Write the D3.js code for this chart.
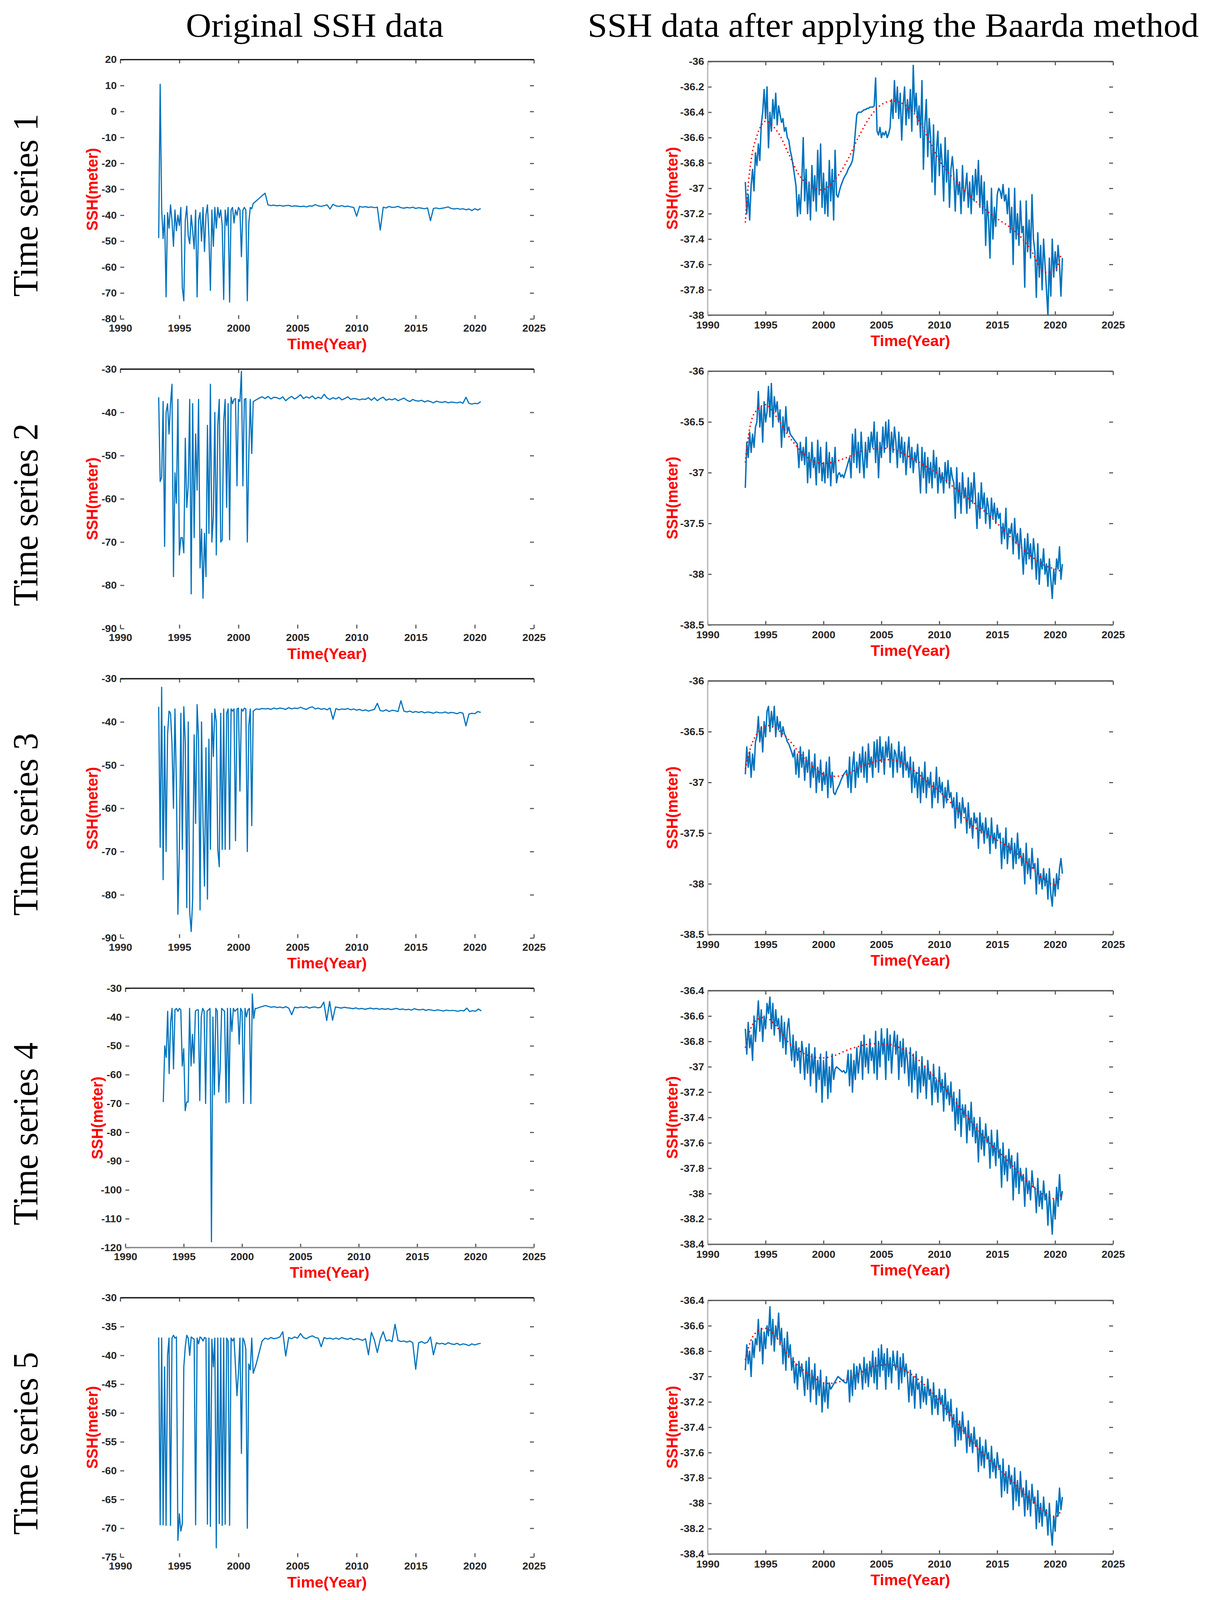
<!DOCTYPE html>
<html>
<head>
<meta charset="utf-8">
<script src="https://cdn.jsdelivr.net/npm/d3@7"></script>
<style>
html, body { margin: 0; padding: 0; background: #fff; overflow: hidden; }
#fig svg { display: block; }
</style>
</head>
<body>
<div id="fig"></div>
<script>
var W = 3111, H = 4214

var colTitles = ['Original SSH data', 'SSH data after applying the Baarda method']
var rowNames = ['Time series 1', 'Time series 2', 'Time series 3', 'Time series 4', 'Time series 5']
var xTicks = [1990, 1995, 2000, 2005, 2010, 2015, 2020, 2025]

var leftTicks1 = [-80, -70, -60, -50, -40, -30, -20, -10, 0, 10, 20]
var leftTicks2 = [-90, -80, -70, -60, -50, -40, -30]
var leftTicks3 = [-90, -80, -70, -60, -50, -40, -30]
var leftTicks4 = [-120, -110, -100, -90, -80, -70, -60, -50, -40, -30]
var leftTicks5 = [-75, -70, -65, -60, -55, -50, -45, -40, -35, -30]
var rightTicks1 = [-38, -37.8, -37.6, -37.4, -37.2, -37, -36.8, -36.6, -36.4, -36.2, -36]
var rightTicks2 = [-38.5, -38, -37.5, -37, -36.5, -36]
var rightTicks3 = [-38.5, -38, -37.5, -37, -36.5, -36]
var rightTicks4 = [-38.4, -38.2, -38, -37.8, -37.6, -37.4, -37.2, -37, -36.8, -36.6, -36.4]
var rightTicks5 = [-38.4, -38.2, -38, -37.8, -37.6, -37.4, -37.2, -37, -36.8, -36.6, -36.4]

// original series: dense part (from 1993.25, every 0.125 yr) and later part (from 2001.25, every 0.25 yr)
var earlyStart = 1993.25, earlyStep = 0.125
var lateStart = 2001.25, lateStep = 0.25
// filtered series: from 1993.25, every 0.125 yr
var cleanStart = 1993.25, cleanStep = 0.125

var ssh1Early = [
  -48.8, 10.5, -37.5, -49, -40, -71.5, -39, -45,
  -36, -42, -52, -38, -46, -40, -44, -37,
  -68, -73, -42, -36.5, -48, -51, -40, -46,
  -53, -38, -71.5, -42, -39, -50, -37, -54,
  -40, -36, -48, -69, -38, -52, -37, -45,
  -37, -41, -38, -44, -72.5, -38, -44, -37,
  -73.5, -38, -37, -43, -38, -40, -37, -38,
  -56, -38, -37, -38, -73, -43, -37, -37.5]
var ssh1Late = [
  -35.5, -34.5, -33.5, -32.5,
  -31.5, -36.0, -36.3, -36.1,
  -36.4, -36.2, -36.5, -36.3,
  -36.2, -36.6, -36.4, -36.5,
  -36.7, -36.5, -36.8, -36.4,
  -36.5, -35.9, -36.4, -36.6,
  -36.3, -36.0, -37.6, -35.8,
  -36.4, -36.6, -36.3, -36.7,
  -36.5, -36.8, -37.0, -40.4,
  -36.6, -36.9, -36.7, -37.0,
  -36.8, -37.1, -36.9, -45.7,
  -36.9, -37.2, -36.6, -37.0,
  -36.9, -36.6, -37.1, -37.3,
  -37.0, -37.2, -36.9, -37.4,
  -37.1, -37.3, -37.5, -37.2,
  -42.1, -37.4, -37.2, -37.5,
  -37.3, -37.1, -36.8, -37.4,
  -37.6, -37.4, -37.7, -37.5,
  -37.9, -37.6, -38.2, -37.5,
  -38.0, -37.4]

var ssh2Early = [
  -36.5, -56, -55, -37.5, -71, -40, -38, -45,
  -38, -33.5, -78, -54, -61, -37, -73, -69,
  -69, -72.5, -46, -62, -57, -37, -82, -38,
  -69, -45, -58, -37, -76, -67, -83, -68,
  -78, -43, -68, -33.5, -70, -64, -40, -73,
  -43, -37, -70, -69.5, -42, -37, -62, -38,
  -69.5, -36.5, -38, -37, -36.8, -57, -37, -37.5,
  -30.5, -57, -37, -36.8, -70, -50, -37, -49.5]
var ssh2Late = [
  -37.5, -37.1, -36.7, -36.4,
  -36.8, -36.3, -36.9, -36.5,
  -36.6, -36.9, -36.4, -37.3,
  -36.7, -36.3, -36.9, -36.5,
  -35.9, -36.8, -36.4, -36.7,
  -36.2, -36.9, -36.5, -36.8,
  -35.8, -36.7, -37.0, -36.6,
  -36.9, -36.5, -37.1, -36.8,
  -36.4, -37.0, -36.8, -36.9,
  -37.1, -36.9, -37.0, -36.6,
  -37.2, -36.6, -37.3, -36.8,
  -36.5, -37.2, -36.9, -37.1,
  -36.8, -37.3, -37.0, -36.7,
  -37.2, -37.5, -37.0, -37.3,
  -37.4, -37.2, -37.6, -37.3,
  -37.5, -37.8, -37.4, -37.6,
  -37.7, -37.5, -37.8, -37.6,
  -37.7, -37.8, -37.6, -37.9,
  -36.5, -37.9, -38.1, -37.9,
  -38.0, -37.5]

var ssh3Early = [
  -36.5, -69, -32, -76.5, -41, -70, -43, -37.5,
  -38, -45, -60, -37, -55, -84.5, -70, -38,
  -69.5, -36.5, -45, -83, -40, -84, -88.5, -81,
  -43, -63.5, -36, -44, -83.5, -40, -63, -78,
  -46, -81, -44, -69.5, -38, -48, -37, -40,
  -69.5, -73.5, -38, -69.5, -37, -69.5, -38, -37,
  -69.5, -37, -37.5, -37, -67.5, -37, -36.8, -56,
  -37, -37.5, -36.8, -37, -70, -41, -37, -64]
var ssh3Late = [
  -37.5, -37.0, -37.1, -36.9,
  -37.0, -36.9, -37.1, -36.8,
  -37.0, -36.8, -36.9, -37.1,
  -36.7, -37.0, -36.8, -36.9,
  -36.6, -36.9, -37.1, -36.7,
  -36.5, -37.0, -36.8, -37.1,
  -36.9, -37.2, -36.8, -39.4,
  -36.9, -37.2, -37.0, -37.1,
  -36.9, -37.2, -37.0, -37.3,
  -37.1, -37.4, -37.2, -37.5,
  -37.3, -37.1, -35.7, -37.4,
  -37.5, -37.2, -37.6, -37.3,
  -37.4, -37.6, -35.1, -37.5,
  -37.7, -37.5, -37.8, -37.6,
  -37.8, -37.6, -37.9, -37.7,
  -37.8, -38.0, -37.7, -37.9,
  -37.9, -37.7, -38.0, -37.8,
  -37.9, -38.1, -37.8, -38.0,
  -40.9, -38.2, -38.0, -38.1,
  -37.6, -37.8]

var ssh4Early = [
  -69.5, -50, -54, -38, -59.6, -42, -37, -58,
  -37.5, -37, -38, -37, -37.5, -57, -51, -72.5,
  -69.5, -69.5, -37, -57, -46, -56, -38, -37.5,
  -37.5, -69, -40, -37, -38, -70, -38, -37.5,
  -37, -118, -40, -67, -37, -38, -66, -57.7,
  -37, -37.5, -38, -69.8, -37, -69.5, -37, -45,
  -37, -38, -37.5, -37, -49.4, -37, -38, -70,
  -37, -40, -37.5, -37, -70, -32, -40.5, -37]
var ssh4Late = [
  -37.0, -36.6, -36.3, -36.0,
  -36.3, -36.6, -36.4, -36.7,
  -36.5, -36.8, -36.4, -36.9,
  -39.2, -36.6, -36.8, -36.5,
  -36.7, -36.4, -36.9, -36.6,
  -36.5, -36.8, -36.6, -34.8,
  -41.2, -34.6, -41.1, -36.5,
  -36.7, -36.9, -36.6, -36.8,
  -36.9, -37.1, -36.8, -37.2,
  -37.0, -37.3, -37.1, -36.9,
  -37.2, -37.0, -37.3, -37.1,
  -37.3, -37.1, -37.4, -37.2,
  -37.0, -37.4, -37.2, -37.5,
  -37.3, -37.6, -37.1, -37.4,
  -37.5, -37.3, -37.7, -37.4,
  -37.6, -37.8, -37.5, -37.7,
  -37.9, -37.6, -37.8, -37.7,
  -37.8, -38.0, -37.7, -37.9,
  -36.9, -38.1, -37.8, -38.0,
  -37.2, -37.9]

var ssh5Early = [
  -36.9, -69.4, -37, -69.4, -42, -69.5, -40, -37,
  -69.5, -37, -36.5, -37, -36.8, -72.1, -67.5, -70.5,
  -69.2, -42, -38.5, -36.5, -37, -40, -36.8, -37,
  -37.2, -69.4, -37, -38, -36.8, -37, -37.5, -36.9,
  -37, -69.3, -37, -69.7, -37.2, -42, -37, -73.4,
  -37, -69.2, -37, -69.5, -37, -69.3, -37, -37.5,
  -69.5, -37, -37.5, -37, -42, -47, -43, -37,
  -57, -37, -37.5, -39, -70, -41.5, -42.5, -37]
var ssh5Late = [
  -43.1, -41.5, -39.5, -37.5,
  -37.0, -37.2, -36.9, -37.1,
  -37.0, -36.8, -35.9, -40.1,
  -36.9, -37.1, -36.8, -37.0,
  -36.2, -36.9, -37.1, -36.8,
  -36.6, -36.9, -37.0, -38.5,
  -36.9, -37.1, -37.0, -37.2,
  -37.0, -37.2, -36.9, -37.1,
  -37.2, -37.0, -37.3, -37.1,
  -37.2, -37.4, -37.1, -39.9,
  -36.0, -37.3, -39.5, -37.2,
  -35.9, -37.5, -37.3, -37.6,
  -34.6, -37.4, -37.6, -37.5,
  -37.7, -37.5, -37.8, -42.4,
  -37.8, -37.6, -37.9, -37.7,
  -36.8, -39.9, -37.8, -38.0,
  -37.9, -38.1, -37.8, -38.0,
  -38.1, -37.9, -38.2, -38.0,
  -38.1, -38.3, -38.0, -38.2,
  -38.0, -37.9]

var clean1 = [
  -36.95, -37.2, -37.05, -37.25, -36.98, -36.85, -37.02, -36.72,
  -36.82, -36.65, -36.78, -36.5, -36.4, -36.22, -36.45, -36.2,
  -36.68, -36.4, -36.55, -36.3, -36.45, -36.25, -36.5, -36.35,
  -36.42, -36.48, -36.45, -36.55, -36.52, -36.6, -36.62, -36.7,
  -36.75, -36.82, -36.9, -36.98, -37.22, -37.05, -37.2, -36.95,
  -36.6, -37.1, -36.85, -37.2, -36.95, -37.25, -36.82, -37.1,
  -36.9, -37.18, -36.7, -37.05, -36.65, -37.15, -36.88, -37.2,
  -36.95, -37.22, -36.78, -37.1, -36.85, -37.25, -36.7, -37.05,
  -37.07, -37.02, -36.98, -36.95, -36.92, -36.9, -36.88, -36.85,
  -36.83, -36.81, -36.78, -36.7, -36.55, -36.42, -36.4, -36.4,
  -36.4, -36.39, -36.38, -36.38, -36.37, -36.37, -36.36, -36.36,
  -36.36, -36.35, -36.13, -36.55, -36.58, -36.52, -36.6, -36.56,
  -36.58, -36.55, -36.6, -36.57, -36.52, -36.3, -36.45, -36.15,
  -36.4, -36.2, -36.45, -36.25, -36.62, -36.35, -36.2, -36.5,
  -36.3, -36.45, -36.22, -36.55, -36.03, -36.4, -36.25, -36.5,
  -36.35, -36.6, -36.15, -36.85, -36.5, -36.3, -36.75, -36.45,
  -36.6, -36.95, -36.5, -37.05, -36.7, -36.55, -36.9, -36.65,
  -36.8, -37.1, -36.6, -36.95, -36.7, -37.15, -36.85, -36.75,
  -36.9, -37.18, -36.85, -37.05, -36.95, -37.2, -36.82, -37.1,
  -37.0, -36.88, -37.15, -36.95, -37.2, -36.9, -37.1, -36.85,
  -37.05, -36.78, -37.15, -36.9, -37.2, -36.95, -37.45, -37.1,
  -37.25, -37.55, -37.0, -37.4, -37.15, -37.3, -37.05, -37.0,
  -37.02, -37.08, -36.97, -37.1, -37.05, -37.2, -37.0, -37.35,
  -37.15, -37.6, -37.0, -37.4, -37.2, -37.45, -37.1, -37.35,
  -37.3, -37.78, -37.1, -37.5, -37.25, -37.55, -37.05, -37.4,
  -37.5, -37.86, -37.35, -37.7, -37.45, -37.8, -37.4, -37.6,
  -37.8, -38.0, -37.55, -37.85, -37.4, -37.7, -37.5, -37.65,
  -37.45, -37.6, -37.85, -37.55]

var clean2 = [
  -37.15, -36.7, -36.85, -36.6, -36.8, -36.62, -36.75, -36.55,
  -36.5, -36.2, -36.55, -36.35, -36.7, -36.3, -36.5, -36.4,
  -36.15, -36.45, -36.12, -36.55, -36.25, -36.4, -36.3, -36.5,
  -36.38, -36.75, -36.45, -36.65, -36.35, -36.6, -36.55, -36.62,
  -36.64, -36.66, -36.68, -36.7, -36.72, -36.95, -36.7, -36.88,
  -36.75, -36.92, -36.65, -37.1, -36.8, -37.05, -36.7, -36.95,
  -36.85, -37.12, -36.68, -37.0, -36.75, -37.08, -36.9, -37.1,
  -36.7, -37.05, -36.8, -37.13, -36.85, -37.0, -36.75, -37.1,
  -37.02, -37.0, -37.04, -37.02, -37.05, -37.0, -36.95, -36.9,
  -36.85, -37.05, -36.62, -36.9, -36.57, -36.95, -36.7, -37.0,
  -36.6, -36.85, -37.05, -36.7, -36.95, -36.65, -36.8, -36.6,
  -36.75, -36.5, -36.9, -36.6, -37.05, -36.7, -36.85, -36.55,
  -36.8, -36.5, -36.75, -36.48, -36.9, -36.6, -36.8, -36.55,
  -36.7, -36.95, -36.6, -36.85, -36.65, -36.9, -36.7, -37.02,
  -36.8, -36.65, -36.95, -36.75, -37.0, -36.8, -36.9, -36.72,
  -36.95, -37.2, -36.75, -37.05, -36.8, -37.2, -36.85, -37.1,
  -36.9, -37.15, -36.78, -37.05, -36.85, -37.2, -36.95, -37.1,
  -37.0, -37.2, -36.9, -37.1, -36.88, -37.15, -36.95, -37.05,
  -37.1, -37.45, -36.95, -37.3, -37.1, -37.4, -37.0, -37.25,
  -37.15, -37.4, -37.05, -37.35, -37.1, -37.3, -37.0, -37.25,
  -37.55, -37.2, -37.45, -37.1, -37.35, -37.2, -37.5, -37.25,
  -37.35, -37.55, -37.25, -37.45, -37.3, -37.5, -37.35, -37.45,
  -37.4, -37.7, -37.5, -37.65, -37.35, -37.75, -37.55, -37.6,
  -37.5, -37.8, -37.45, -37.7, -37.6, -37.85, -37.55, -37.75,
  -38.0, -37.65, -37.9, -37.6, -37.85, -37.7, -37.95, -37.65,
  -37.8, -38.05, -37.7, -38.1, -37.85, -37.95, -37.75, -38.0,
  -37.9, -38.12, -37.85, -38.05, -38.24, -37.95, -38.1, -37.85,
  -37.95, -37.73, -38.05, -37.9]

var clean3 = [
  -36.92, -36.65, -36.85, -36.7, -36.95, -36.72, -36.88, -36.6,
  -36.55, -36.35, -36.6, -36.45, -36.7, -36.4, -36.55, -36.3,
  -36.25, -36.5, -36.3, -36.45, -36.25, -36.55, -36.35, -36.48,
  -36.4, -36.55, -36.45, -36.52, -36.55, -36.6, -36.62, -36.66,
  -36.7, -36.75, -36.68, -36.92, -36.72, -36.95, -36.65, -36.85,
  -36.7, -36.98, -36.75, -36.9, -36.68, -37.05, -36.8, -36.95,
  -36.72, -37.1, -36.85, -37.0, -36.78, -37.08, -36.9, -37.02,
  -36.8, -37.15, -36.75, -37.05, -36.9, -37.1, -37.12, -37.08,
  -37.05, -37.02, -36.98, -36.95, -36.92, -36.9, -36.88, -37.05,
  -36.75, -37.1, -36.85, -36.7, -37.05, -36.8, -36.95, -36.72,
  -36.9, -36.65, -36.95, -36.7, -37.0, -36.62, -36.85, -36.75,
  -36.95, -36.6, -36.85, -36.58, -36.9, -36.55, -36.8, -36.65,
  -36.92, -36.6, -36.75, -36.55, -36.85, -36.62, -36.95, -36.68,
  -36.72, -36.9, -36.6, -36.85, -36.7, -36.95, -36.65, -36.88,
  -36.8, -36.95, -36.75, -37.1, -36.8, -37.05, -36.9, -37.15,
  -36.85, -37.2, -36.9, -37.1, -36.8, -37.15, -36.95, -37.05,
  -36.9, -37.25, -37.0, -37.15, -36.85, -37.2, -36.95, -37.1,
  -37.0, -37.25, -37.05, -37.2, -36.98, -37.15, -37.1, -37.25,
  -37.15, -37.45, -37.1, -37.35, -37.2, -37.4, -37.15, -37.3,
  -37.25, -37.5, -37.2, -37.45, -37.35, -37.55, -37.3, -37.4,
  -37.35, -37.65, -37.3, -37.5, -37.4, -37.6, -37.35, -37.55,
  -37.45, -37.7, -37.35, -37.6, -37.5, -37.65, -37.42, -37.55,
  -37.5, -37.85, -37.55, -37.75, -37.45, -37.8, -37.6, -37.7,
  -37.55, -37.85, -37.6, -37.8, -37.5, -37.75, -37.65, -37.82,
  -37.7, -38.0, -37.6, -37.9, -37.75, -37.95, -37.65, -37.85,
  -37.8, -38.1, -37.75, -38.0, -37.9, -38.05, -37.85, -38.02,
  -37.9, -38.15, -37.85, -38.1, -38.22, -37.95, -38.12, -37.9,
  -38.05, -37.85, -37.75, -37.9]

var clean4 = [
  -36.7, -36.9, -36.65, -36.85, -36.75, -36.95, -36.6, -36.8,
  -36.65, -36.48, -36.72, -36.55, -36.8, -36.6, -36.7, -36.5,
  -36.58, -36.45, -36.7, -36.5, -36.75, -36.55, -36.68, -36.62,
  -36.8, -36.6, -36.85, -36.65, -36.9, -36.7, -36.62, -36.8,
  -36.95, -36.75, -37.0, -36.8, -36.95, -36.85, -37.05, -36.8,
  -36.9, -37.1, -36.85, -37.05, -36.82, -37.15, -36.9, -37.05,
  -36.85, -37.2, -36.95, -37.1, -36.9, -37.28, -36.95, -37.15,
  -36.88, -37.25, -37.0, -37.2, -36.9, -37.1, -37.02, -37.0,
  -37.01, -37.02, -37.03, -37.04, -37.03, -37.05, -37.04, -36.9,
  -37.15, -36.9, -37.2, -36.95, -37.1, -36.85, -37.05, -36.92,
  -36.8, -37.1, -36.75, -37.0, -36.85, -37.05, -36.78, -36.95,
  -36.85, -37.05, -36.72, -37.1, -36.8, -37.0, -36.7, -36.9,
  -36.78, -37.1, -36.7, -36.95, -36.75, -37.05, -36.85, -36.72,
  -36.9, -36.75, -37.1, -36.8, -37.0, -36.78, -37.05, -36.85,
  -36.95, -37.15, -36.85, -37.2, -36.9, -37.1, -36.88, -37.25,
  -37.0, -37.2, -36.92, -37.15, -37.0, -37.25, -36.95, -37.1,
  -37.05, -37.3, -36.98, -37.2, -37.1, -37.28, -37.0, -37.2,
  -37.1, -37.35, -37.05, -37.25, -37.15, -37.3, -37.12, -37.35,
  -37.2, -37.5, -37.25, -37.45, -37.18, -37.55, -37.3, -37.4,
  -37.3, -37.6, -37.35, -37.5, -37.28, -37.55, -37.4, -37.6,
  -37.45, -37.75, -37.4, -37.65, -37.5, -37.7, -37.45, -37.6,
  -37.55, -37.8, -37.5, -37.7, -37.6, -37.78, -37.5, -37.72,
  -37.65, -37.95, -37.6, -37.85, -37.7, -37.9, -37.65, -37.8,
  -37.7, -38.05, -37.75, -37.95, -37.68, -38.0, -37.8, -37.9,
  -37.85, -38.1, -37.8, -38.0, -37.9, -38.05, -37.82, -37.95,
  -37.95, -38.15, -37.88, -38.1, -37.98, -38.12, -37.9, -38.05,
  -38.0, -38.25, -37.98, -38.15, -38.32, -38.05, -38.2, -37.95,
  -38.1, -37.85, -38.05, -37.98]

var clean5 = [
  -36.95, -36.75, -36.9, -36.8, -37.0, -36.72, -36.85, -36.7,
  -36.75, -36.55, -36.8, -36.62, -36.9, -36.65, -36.78, -36.6,
  -36.68, -36.45, -36.75, -36.55, -36.8, -36.6, -36.7, -36.5,
  -36.75, -36.62, -36.9, -36.7, -36.95, -36.65, -36.85, -36.75,
  -36.95, -36.85, -37.05, -36.9, -37.1, -36.88, -37.0, -36.9,
  -37.0, -37.15, -36.88, -37.1, -36.85, -37.2, -36.95, -37.1,
  -36.9, -37.22, -37.0, -37.15, -36.95, -37.28, -37.05, -37.2,
  -37.0, -37.25, -37.05, -37.1, -37.08, -37.06, -37.04, -37.02,
  -37.0, -37.01, -37.02, -37.03, -37.04, -37.05, -37.05, -36.95,
  -37.2, -36.95, -37.15, -36.9, -37.1, -36.92, -37.05, -36.9,
  -36.95, -37.1, -36.85, -37.05, -36.9, -37.08, -36.88, -37.0,
  -36.8, -37.05, -36.85, -37.1, -36.78, -37.0, -36.75, -36.95,
  -36.82, -37.1, -36.78, -37.0, -36.85, -37.05, -36.8, -36.9,
  -36.95, -36.8, -37.1, -36.85, -37.05, -36.82, -37.0, -36.9,
  -37.0, -37.2, -36.95, -37.15, -37.0, -37.25, -36.98, -37.1,
  -37.05, -37.25, -37.0, -37.2, -37.08, -37.22, -37.02, -37.15,
  -37.1, -37.3, -37.05, -37.25, -37.15, -37.3, -37.1, -37.22,
  -37.15, -37.35, -37.1, -37.3, -37.2, -37.35, -37.18, -37.4,
  -37.3, -37.55, -37.25, -37.5, -37.35, -37.5, -37.28, -37.45,
  -37.4, -37.6, -37.35, -37.55, -37.45, -37.6, -37.4, -37.55,
  -37.5, -37.75, -37.48, -37.7, -37.55, -37.72, -37.5, -37.65,
  -37.6, -37.8, -37.55, -37.75, -37.65, -37.8, -37.6, -37.72,
  -37.7, -37.95, -37.65, -37.9, -37.75, -37.92, -37.7, -37.85,
  -37.78, -38.05, -37.72, -37.98, -37.82, -38.02, -37.75, -37.95,
  -37.88, -38.1, -37.82, -38.05, -37.9, -38.1, -37.85, -38.0,
  -37.95, -38.2, -37.9, -38.15, -38.0, -38.18, -37.95, -38.1,
  -38.05, -38.25, -38.0, -38.2, -38.33, -38.1, -38.22, -37.98,
  -38.1, -37.88, -38.05, -37.95]

// fitted trend (red dotted), one value per year
var trendYears = [1993.25, 1994, 1995, 1996, 1997, 1998, 1999, 2000, 2001, 2002, 2003, 2004, 2005, 2006,
  2007, 2008, 2009, 2010, 2011, 2012, 2013, 2014, 2015, 2016, 2017, 2018, 2019, 2020, 2020.5]
var trend1 = [-37.27, -36.66, -36.47, -36.55, -36.73, -36.91, -36.99, -37.01, -36.93, -36.79, -36.6, -36.44, -36.34, -36.31,
  -36.34, -36.43, -36.6, -36.78, -36.9, -37.0, -37.09, -37.17, -37.24, -37.3, -37.38, -37.5, -37.66, -37.64, -37.52]
var trend2 = [-36.9, -36.42, -36.33, -36.46, -36.64, -36.78, -36.88, -36.91, -36.89, -36.85, -36.8, -36.77, -36.76, -36.77,
  -36.82, -36.88, -36.95, -37.02, -37.12, -37.21, -37.3, -37.39, -37.5, -37.62, -37.73, -37.83, -37.91, -37.95, -37.97]
var trend3 = [-36.87, -36.57, -36.44, -36.48, -36.58, -36.72, -36.84, -36.92, -36.94, -36.92, -36.86, -36.81, -36.78, -36.78,
  -36.82, -36.9, -37.0, -37.09, -37.2, -37.33, -37.44, -37.5, -37.57, -37.64, -37.73, -37.84, -37.95, -38.01, -37.92]
var trend4 = [-36.85, -36.65, -36.61, -36.69, -36.81, -36.88, -36.92, -36.93, -36.91, -36.87, -36.84, -36.82, -36.82, -36.83,
  -36.87, -36.93, -37.02, -37.12, -37.23, -37.35, -37.46, -37.57, -37.66, -37.75, -37.85, -37.94, -38.01, -38.04, -38.01]
var trend5 = [-36.87, -36.67, -36.62, -36.7, -36.84, -36.93, -37.0, -37.05, -37.05, -37.02, -36.98, -36.93, -36.91, -36.91,
  -36.95, -37.01, -37.09, -37.19, -37.31, -37.42, -37.53, -37.63, -37.72, -37.8, -37.89, -37.98, -38.06, -38.11, -38.06]

var BLUE = '#0072BD'
var sansFont = '"Liberation Sans", Arial, sans-serif'
var serifFont = '"Liberation Serif", "DejaVu Serif", serif'

// the drawing uses the reference's own pixel grid and is stretched to the window
var svg = d3.select('#fig').append('svg')
  .attr('viewBox', '0 0 ' + W + ' ' + H)
  .attr('preserveAspectRatio', 'none')
  .style('width', '100vw')
  .style('height', '100vh')
  .style('background', '#fff')

function toPoints(values, start, step) {
  return values.map(function(v, i) { return {t: start + i * step, v: v} })
}

function drawPanel(cfg) {
  var x = d3.scaleLinear().domain([1990, 2025]).range([cfg.x0, cfg.x1])
  var y = d3.scaleLinear().domain(d3.extent(cfg.ticks)).range([cfg.y0 + cfg.h, cfg.y0])
  var g = svg.append('g')
  var yb = cfg.y0 + cfg.h

  // axes with inward ticks
  var bottom = g.append('g').attr('transform', 'translate(0,' + yb + ')')
    .call(d3.axisBottom(x).tickValues(xTicks).tickSize(-10).tickSizeOuter(0).tickPadding(cfg.xPad).tickFormat(d3.format('d')))
  var top = g.append('g').attr('transform', 'translate(0,' + cfg.y0 + ')')
    .call(d3.axisTop(x).tickValues(xTicks).tickSize(-10).tickSizeOuter(0).tickFormat(''))
  var left = g.append('g').attr('transform', 'translate(' + cfg.x0 + ',0)')
    .call(d3.axisLeft(y).tickValues(cfg.ticks).tickSize(-10).tickSizeOuter(0).tickPadding(9).tickFormat(function(d) { return String(d) }))
  var right = g.append('g').attr('transform', 'translate(' + cfg.x1 + ',0)')
    .call(d3.axisRight(y).tickValues(cfg.ticks).tickSize(-10).tickSizeOuter(0).tickFormat(''))

  ;[bottom, top, left, right].forEach(function(a) {
    a.select('.domain').remove()
    a.selectAll('.tick line').attr('stroke', '#5a5a5a').attr('stroke-width', 3)
    a.selectAll('.tick text')
      .attr('fill', '#262626')
      .attr('font-family', sansFont)
      .attr('font-weight', 'bold')
      .attr('font-size', 27)
  })

  // frame lines
  g.append('line').attr('x1', cfg.x0).attr('x2', cfg.x1).attr('y1', cfg.y0).attr('y2', cfg.y0)
    .attr('stroke', cfg.topColor).attr('stroke-width', 3.5)
  if (cfg.bottomColor) {
    g.append('line').attr('x1', cfg.x0).attr('x2', cfg.x1).attr('y1', yb).attr('y2', yb)
      .attr('stroke', cfg.bottomColor).attr('stroke-width', 3.5)
  }
  if (cfg.leftColor) {
    g.append('line').attr('x1', cfg.x0).attr('x2', cfg.x0).attr('y1', cfg.y0).attr('y2', yb)
      .attr('stroke', cfg.leftColor).attr('stroke-width', 3)
  }

  var line = d3.line().x(function(d) { return x(d.t) }).y(function(d) { return y(d.v) })
  g.append('path').datum(cfg.series)
    .attr('d', line)
    .attr('fill', 'none')
    .attr('stroke', BLUE)
    .attr('stroke-width', cfg.lineWidth)
    .attr('stroke-linejoin', 'round')

  if (cfg.trend) {
    var curve = d3.line().curve(d3.curveCatmullRom)
      .x(function(d) { return x(d.t) }).y(function(d) { return y(d.v) })
    g.append('path').datum(cfg.trend)
      .attr('d', curve)
      .attr('fill', 'none')
      .attr('stroke', '#ff0000')
      .attr('stroke-width', 3.6)
      .attr('stroke-dasharray', '3.5,7')
  }

  // axis titles
  g.append('text')
    .attr('transform', 'translate(' + (cfg.x0 - cfg.yLabOff) + ',' + (cfg.y0 + cfg.h / 2) + ') rotate(-90)')
    .attr('text-anchor', 'middle')
    .attr('font-family', sansFont)
    .attr('font-weight', 'bold')
    .attr('font-size', 40)
    .attr('fill', '#ff0000')
    .text('SSH(meter)')
  g.append('text')
    .attr('x', (cfg.x0 + cfg.x1) / 2)
    .attr('y', yb + cfg.xLabOff)
    .attr('text-anchor', 'middle')
    .attr('font-family', sansFont)
    .attr('font-weight', 'bold')
    .attr('font-size', 40)
    .attr('fill', '#ff0000')
    .text('Time(Year)')
}

var leftTicks = [leftTicks1, leftTicks2, leftTicks3, leftTicks4, leftTicks5]
var rightTicks = [rightTicks1, rightTicks2, rightTicks3, rightTicks4, rightTicks5]
var origEarly = [ssh1Early, ssh2Early, ssh3Early, ssh4Early, ssh5Early]
var origLate = [ssh1Late, ssh2Late, ssh3Late, ssh4Late, ssh5Late]
var cleaned = [clean1, clean2, clean3, clean4, clean5]
var trends = [trend1, trend2, trend3, trend4, trend5]

// column titles
svg.append('text').attr('x', 806).attr('y', 97).attr('text-anchor', 'middle')
  .attr('font-family', serifFont).attr('font-size', 90).attr('fill', '#000').text(colTitles[0])
svg.append('text').attr('x', 2287).attr('y', 97).attr('text-anchor', 'middle')
  .attr('font-family', serifFont).attr('font-size', 90).attr('fill', '#000').text(colTitles[1])

for (var i = 0; i < 5; i++) {
  var lTop = 157 + i * 815.25
  var rTop = 162 + i * 815.75

  svg.append('text')
    .attr('transform', 'translate(96,' + (lTop + 683 / 2 + 42) + ') rotate(-90)')
    .attr('text-anchor', 'middle')
    .attr('font-family', serifFont)
    .attr('font-size', 90)
    .attr('fill', '#000')
    .text(rowNames[i])

  drawPanel({
    x0: i === 3 ? 321 : 308, x1: 1367, y0: lTop, h: 683,
    ticks: leftTicks[i],
    series: toPoints(origEarly[i], earlyStart, earlyStep).concat(toPoints(origLate[i], lateStart, lateStep)),
    topColor: '#1a1a1a',
    bottomColor: i === 3 ? '#8a8a8a' : null,
    leftColor: null,
    lineWidth: 3,
    xPad: 14, yLabOff: 58, xLabOff: 80
  })

  drawPanel({
    x0: 1812, x1: 2850, y0: rTop, h: 668,
    ticks: rightTicks[i],
    series: toPoints(cleaned[i], cleanStart, cleanStep),
    trend: trendYears.map(function(t, k) { return {t: t, v: trends[i][k]} }),
    topColor: '#555555',
    bottomColor: '#666666',
    leftColor: '#b0b0b0',
    lineWidth: 3.6,
    xPad: 16, yLabOff: 77, xLabOff: 82
  })
}
</script>
</body>
</html>
